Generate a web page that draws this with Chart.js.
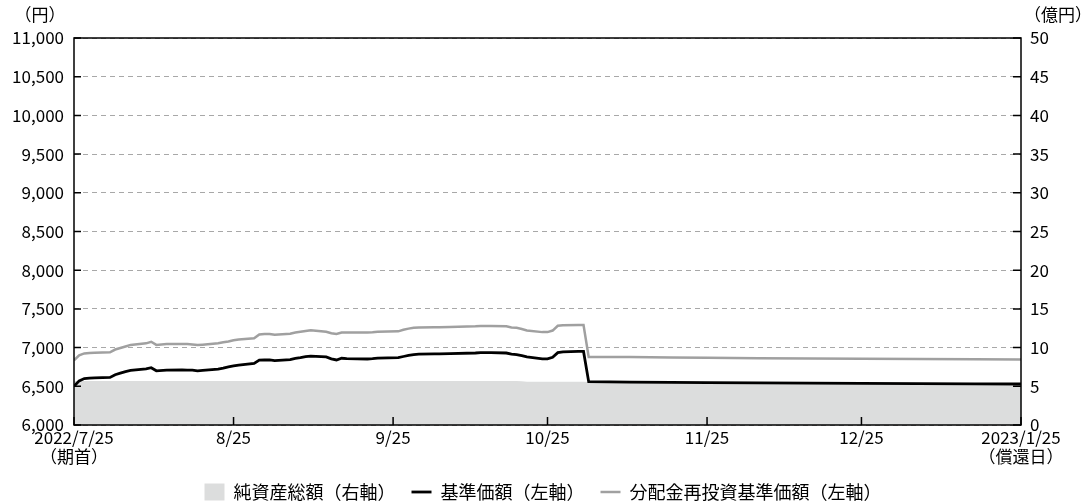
<!DOCTYPE html>
<html>
<head>
<meta charset="utf-8">
<script src="https://cdn.jsdelivr.net/npm/chart.js@4/dist/chart.umd.min.js"></script>
<style>
	body { margin: 0; background: #fff; }
	#wrap { width: 1086px; height: 504px; }
</style>
</head>
<body>
<div id="wrap"><canvas id="my_chart" width="1086" height="504"></canvas></div>
<script>
// Data
const dates = ['2022-07-25','2022-07-26','2022-07-27','2022-07-28','2022-07-29','2022-08-01','2022-08-02','2022-08-03',
	'2022-08-04','2022-08-05','2022-08-08','2022-08-09','2022-08-10','2022-08-12','2022-08-15','2022-08-16','2022-08-17',
	'2022-08-18','2022-08-19','2022-08-22','2022-08-23','2022-08-24','2022-08-25','2022-08-26','2022-08-29','2022-08-30',
	'2022-08-31','2022-09-01','2022-09-02','2022-09-05','2022-09-06','2022-09-07','2022-09-08','2022-09-09','2022-09-12',
	'2022-09-13','2022-09-14','2022-09-15','2022-09-16','2022-09-20','2022-09-21','2022-09-22','2022-09-26','2022-09-27',
	'2022-09-28','2022-09-29','2022-09-30','2022-10-03','2022-10-04','2022-10-06','2022-10-11','2022-10-12','2022-10-14',
	'2022-10-17','2022-10-18','2022-10-19','2022-10-20','2022-10-21','2022-10-24','2022-10-25','2022-10-26','2022-10-27',
	'2022-10-28','2022-10-31','2022-11-01','2022-11-02','2022-11-10','2022-11-18','2022-11-25','2022-12-05','2022-12-15',
	'2022-12-25','2023-01-05','2023-01-16','2023-01-25']

const nav = [6500,6570,6600,6605,6610,6615,6650,6670,6690,6705,6725,6740,6700,6710,6712,6710,6708,6700,6705,6722,6735,
	6752,6765,6775,6795,6838,6842,6840,6832,6845,6860,6870,6882,6890,6880,6855,6840,6862,6858,6853,6858,6865,6870,6885,
	6900,6910,6915,6918,6918,6922,6930,6935,6935,6930,6915,6910,6895,6880,6855,6855,6875,6935,6945,6950,6950,6560,6555,
	6552,6548,6545,6542,6538,6535,6532,6530]

const reinvest = [6835,6900,6925,6930,6935,6940,6975,6995,7015,7035,7055,7075,7035,7045,7046,7045,7040,7033,7038,7055,
	7068,7078,7095,7105,7120,7170,7176,7176,7165,7180,7195,7205,7215,7225,7205,7185,7176,7195,7195,7196,7198,7205,7210,
	7230,7245,7255,7260,7262,7262,7266,7275,7280,7280,7275,7260,7255,7240,7222,7200,7200,7220,7282,7290,7292,7292,6880,
	6877,6872,6868,6863,6860,6856,6852,6848,6845]

const netAssets = [5.7,5.7,5.7,5.7,5.7,5.7,5.7,5.7,5.7,5.7,5.7,5.7,5.7,5.7,5.7,5.7,5.7,5.7,5.7,5.7,5.7,5.7,5.7,5.7,5.7,
	5.7,5.7,5.7,5.7,5.7,5.7,5.7,5.7,5.7,5.7,5.7,5.7,5.7,5.7,5.7,5.7,5.7,5.7,5.7,5.7,5.7,5.7,5.7,5.7,5.7,5.7,5.7,5.7,5.7,
	5.7,5.7,5.65,5.6,5.6,5.6,5.6,5.6,5.6,5.6,5.6,5.55,5.5,5.45,5.4,5.35,5.3,5.25,5.2,5.2,5.2]

const tickDates = ['2022-07-25','2022-08-25','2022-09-25','2022-10-25','2022-11-25','2022-12-25','2023-01-25']
const tickLabels = [['2022/7/25','（期首）'],'8/25','9/25','10/25','11/25','12/25',['2023/1/25','（償還日）']]
const seriesNames = ['純資産総額（右軸）','基準価額（左軸）','分配金再投資基準価額（左軸）']

const FONT = '"Noto Sans CJK JP", "Noto Sans", sans-serif'

function dayIndex(s) {
	const p = s.split('-').map(Number)
	const p0 = dates[0].split('-').map(Number)
	return Math.round((Date.UTC(p[0], p[1]-1, p[2]) - Date.UTC(p0[0], p0[1]-1, p0[2])) / 86400000)
}

const days = dates.map(dayIndex)
const tickDays = tickDates.map(dayIndex)

// Fixed legend height so the plot area lands where the reference has it
const LEGEND_H = 37
const legendSize = {
	id: 'legendSize',
	beforeLayout(chart) {
		const lg = chart.legend
		if (lg && !lg._fixed) {
			const fit = lg.fit
			lg.fit = function() {
				fit.call(this)
				this.height = LEGEND_H
				this.bottom = this.top + LEGEND_H
			}
			lg._fixed = true
		}
	}
}

// Frame, inward tick marks and unit labels
const framePlugin = {
	id: 'frame',
	afterDraw(chart) {
		const ctx = chart.ctx
		const a = chart.chartArea
		const sx = chart.scales.x, sy = chart.scales.y, sy2 = chart.scales.y2
		ctx.save()
		ctx.strokeStyle = '#000'
		ctx.lineWidth = 1.5
		ctx.strokeRect(a.left, a.top, a.right - a.left, a.bottom - a.top)
		ctx.beginPath()
		sy.ticks.forEach(t => {
			const y = sy.getPixelForValue(t.value)
			ctx.moveTo(a.left, y); ctx.lineTo(a.left + 7, y)
		})
		sy2.ticks.forEach(t => {
			const y = sy2.getPixelForValue(t.value)
			ctx.moveTo(a.right, y); ctx.lineTo(a.right - 8, y)
		})
		sx.ticks.forEach(t => {
			const x = sx.getPixelForValue(t.value)
			ctx.moveTo(x, a.bottom); ctx.lineTo(x, a.bottom - 8)
		})
		ctx.stroke()
		ctx.fillStyle = '#000'
		ctx.font = '17px ' + FONT
		ctx.textAlign = 'center'
		ctx.textBaseline = 'middle'
		ctx.fillText('（円）', 40, 15)
		ctx.fillText('（億円）', 1058, 15)
		ctx.restore()
	}
}

const ctx = document.getElementById('my_chart')
const chart = new Chart(ctx, {
	type: 'line',
	data: {
		datasets: [{
			label: seriesNames[0],
			data: days.map((d, i) => ({x: d, y: netAssets[i]})),
			yAxisID: 'y2',
			fill: 'origin',
			backgroundColor: '#dcdddd',
			borderColor: '#dcdddd',
			borderWidth: 0,
			pointRadius: 0,
			pointStyle: 'rect',
			order: 2
		}, {
			label: seriesNames[1],
			data: days.map((d, i) => ({x: d, y: nav[i]})),
			yAxisID: 'y',
			borderColor: '#000',
			backgroundColor: '#000',
			borderWidth: 2.8,
			pointRadius: 0,
			pointStyle: 'line',
			order: 0
		}, {
			label: seriesNames[2],
			data: days.map((d, i) => ({x: d, y: reinvest[i]})),
			yAxisID: 'y',
			borderColor: '#a0a0a0',
			backgroundColor: '#a0a0a0',
			borderWidth: 2.5,
			pointRadius: 0,
			pointStyle: 'line',
			order: 1
		}]
	},
	options: {
		responsive: false,
		animation: false,
		layout: { padding: { top: 38, left: 0, right: 0, bottom: 0 } },
		plugins: {
			tooltip: { enabled: false },
			legend: {
				position: 'bottom',
				labels: {
					sort: (a, b) => a.datasetIndex - b.datasetIndex,
					usePointStyle: true,
					pointStyleWidth: 20,
					boxHeight: 17,
					padding: 16,
					color: '#000',
					font: { family: FONT, size: 18 }
				}
			}
		},
		scales: {
			x: {
				type: 'linear',
				min: 0,
				max: tickDays[tickDays.length - 1],
				afterBuildTicks: scale => { scale.ticks = tickDays.map(v => ({value: v})) },
				afterFit: scale => { scale.height = 504 - 425 - LEGEND_H },
				grid: { display: false, drawTicks: false },
				border: { display: false },
				ticks: {
					autoSkip: false,
					maxRotation: 0,
					padding: 3,
					color: '#000',
					font: { family: FONT, size: 17, lineHeight: 1.1 },
					callback: (v) => tickLabels[tickDays.indexOf(v)]
				}
			},
			y: {
				position: 'left',
				min: 6000,
				max: 11000,
				afterFit: scale => { scale.width = 74 },
				grid: { color: '#a8a8a8', lineWidth: 1, drawTicks: false },
				border: { display: false, dash: [5, 4] },
				ticks: {
					stepSize: 500,
					padding: 10,
					color: '#000',
					font: { family: FONT, size: 17 },
					callback: v => v.toLocaleString('en-US')
				}
			},
			y2: {
				position: 'right',
				min: 0,
				max: 50,
				afterFit: scale => { scale.width = 65 },
				grid: { display: false, drawTicks: false },
				border: { display: false },
				ticks: {
					stepSize: 5,
					padding: 9,
					color: '#000',
					font: { family: FONT, size: 17 }
				}
			}
		}
	},
	plugins: [legendSize, framePlugin]
})
</script>
</body>
</html>
